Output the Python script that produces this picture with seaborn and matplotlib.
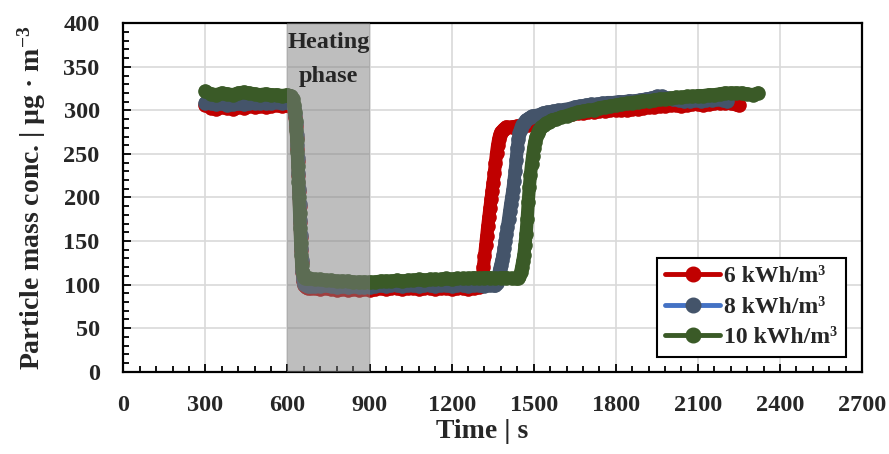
import matplotlib
matplotlib.use("Agg")
import matplotlib.pyplot as plt
import seaborn as sns
import pandas as pd
from matplotlib.ticker import MultipleLocator
from matplotlib.lines import Line2D

# ---------------- data ----------------
labels = ["6 kWh/m³", "8 kWh/m³", "10 kWh/m³"]

t_6 = [300, 320, 340, 360, 380, 400, 420, 440, 460, 480, 500, 520, 540, 560, 580, 600,
       610, 618, 624, 628, 631, 634, 636, 638, 640, 642, 644, 646, 648, 650, 652, 654, 657,
       661, 667, 675, 685,
       700, 720, 740, 760, 780, 800, 820, 840, 860, 880, 900, 920, 940, 960, 980, 1000,
       1020, 1040, 1060, 1080, 1100, 1120, 1140, 1160, 1180, 1200, 1220, 1240, 1260, 1280, 1300,
       1304, 1308, 1312, 1316, 1320, 1324, 1328, 1332, 1336, 1340, 1344, 1348, 1352, 1356,
       1360, 1364, 1368, 1372, 1376, 1380, 1386, 1392, 1400,
       1420, 1440, 1460, 1480, 1500, 1520, 1540, 1560, 1580, 1600, 1620, 1640, 1660, 1680, 1700,
       1720, 1740, 1760, 1780, 1800, 1820, 1840, 1860, 1880, 1900, 1920, 1940, 1960, 1980, 2000,
       2020, 2040, 2060, 2080, 2100, 2120, 2140, 2160, 2180, 2200, 2220, 2240, 2250]
v_6 = [306, 303, 302, 304, 303, 302, 304, 303, 305, 304, 305, 304, 305, 306, 305, 306,
       305, 304, 300, 292, 282, 268, 256, 242, 226, 208, 190, 172, 155, 140, 126, 114, 104,
       99, 97, 96, 96,
       96, 95, 96, 95, 94, 95, 94, 95, 94, 95, 94, 95, 96, 95, 96, 96,
       95, 96, 96, 95, 96, 96, 95, 96, 96, 95, 96, 96, 95, 96, 97,
       98, 101, 108, 120, 133, 145, 156, 167, 178, 188, 198, 207, 217, 228,
       240, 251, 260, 267, 272, 275, 277, 279, 281,
       281, 282, 283, 283, 284, 285, 287, 289, 291, 293, 295, 296, 297, 297, 298,
       298, 299, 299, 300, 300, 301, 301, 302, 302, 303, 304, 304, 305, 305, 306,
       306, 305, 306, 307, 307, 306, 307, 308, 308, 309, 308, 307, 306]

t_8 = [300, 320, 340, 360, 380, 400, 420, 440, 460, 480, 500, 520, 540, 560, 580, 600,
       610, 618, 624, 628, 631, 634, 636, 638, 640, 642, 644, 646, 648, 650, 652, 654, 657,
       661, 667, 675, 685,
       700, 720, 740, 760, 780, 800, 820, 840, 860, 880, 900, 920, 940, 960, 980, 1000,
       1020, 1040, 1060, 1080, 1100, 1120, 1140, 1160, 1180, 1200, 1220, 1240, 1260, 1280, 1300,
       1320, 1340, 1355,
       1360, 1364, 1368, 1372, 1376, 1380, 1384, 1388, 1392, 1396, 1400, 1404, 1408, 1412,
       1416, 1420, 1424, 1428, 1432, 1436, 1440, 1444, 1448, 1452, 1458, 1464, 1472, 1482,
       1492, 1505,
       1520, 1535, 1550, 1570, 1590, 1610, 1630, 1650, 1670, 1690, 1710, 1730, 1750, 1770, 1790,
       1810, 1830, 1850, 1870, 1890, 1910, 1930, 1950, 1970, 1990, 2010, 2030, 2050, 2070, 2090,
       2110, 2130, 2150, 2170, 2190, 2205]
v_8 = [309, 308, 307, 308, 306, 307, 308, 307, 309, 308, 309, 308, 309, 310, 309, 310,
       309, 308, 304, 296, 286, 272, 260, 245, 228, 210, 192, 174, 157, 142, 128, 116, 106,
       101, 99, 98, 98,
       98, 98, 99, 98, 97, 98, 97, 98, 97, 97, 97, 98, 99, 98, 99, 99,
       98, 99, 99, 98, 99, 99, 98, 99, 99, 98, 99, 99, 98, 99, 99,
       98, 99, 99,
       100, 102, 106, 112, 118, 123, 128, 134, 142, 150, 158, 166, 175, 184,
       193, 201, 209, 219, 230, 243, 257, 267, 274, 279, 283, 286, 289, 291,
       293, 294,
       295, 297, 298, 299, 300, 301, 302, 304, 305, 306, 307, 307, 308, 309, 309,
       310, 310, 311, 311, 312, 313, 314, 316, 316, 314, 313, 312, 311, 311, 312,
       311, 312, 312, 313, 312, 311]

t_10 = [300, 320, 340, 360, 380, 400, 420, 440, 460, 480, 500, 520, 540, 560, 580, 600,
        608, 614, 620, 624, 627, 630, 632, 634, 636, 638, 640, 642, 644, 646, 648, 650, 652,
        655, 659, 665, 672, 680,
        700, 720, 740, 760, 780, 800, 820, 840, 860, 880, 900, 920, 940, 960, 980, 1000,
        1020, 1040, 1060, 1080, 1100, 1120, 1140, 1160, 1180, 1200, 1220, 1240, 1260, 1280, 1300,
        1320, 1340, 1360, 1380, 1400, 1420, 1436,
        1442, 1448, 1452, 1456, 1460, 1464, 1468, 1472, 1476, 1480, 1484, 1488, 1492, 1496,
        1500, 1504, 1508, 1514, 1520, 1528, 1536, 1546, 1556, 1566,
        1580, 1600, 1620, 1640, 1660, 1680, 1700, 1720, 1740, 1760, 1780, 1800, 1820, 1840, 1860,
        1880, 1900, 1920, 1940, 1960, 1980, 2000, 2020, 2040, 2060, 2080, 2100, 2120, 2140, 2160,
        2180, 2200, 2220, 2240, 2260, 2280, 2300, 2320]
v_10 = [322, 319, 318, 320, 319, 318, 320, 321, 320, 319, 318, 319, 318, 318, 317, 318,
        317, 316, 313, 306, 298, 288, 278, 266, 252, 236, 218, 200, 182, 165, 148, 134, 122,
        113, 109, 108, 107, 107,
        106, 106, 105, 105, 104, 104, 104, 103, 103, 103, 103, 103, 104, 104, 104, 105,
        104, 105, 105, 106, 105, 106, 106, 106, 107, 106, 107, 107, 107, 108, 107,
        108, 108, 107, 108, 108, 107, 107,
        108, 110, 114, 120, 127, 134, 145, 158, 175, 195, 212, 226, 238, 248,
        257, 264, 269, 274, 278, 281, 283, 285, 287, 289,
        290, 292, 294, 296, 298, 299, 300, 301, 303, 304, 305, 306, 307, 308, 309,
        310, 311, 311, 312, 313, 313, 314, 315, 315, 316, 316, 317, 317, 318, 318,
        319, 320, 320, 320, 320, 319, 318, 320]

x_ticks = [0, 300, 600, 900, 1200, 1500, 1800, 2100, 2400, 2700]
y_ticks = [0, 50, 100, 150, 200, 250, 300, 350, 400]
heating_start, heating_end = 600, 900

# ---------------- style ----------------
sns.set_theme(style="white")
plt.rcParams["font.family"] = ["Liberation Serif", "DejaVu Serif"]
plt.rcParams["font.weight"] = "bold"
plt.rcParams["mathtext.fontset"] = "custom"
plt.rcParams["mathtext.rm"] = "Liberation Serif:bold"
plt.rcParams["mathtext.it"] = "Liberation Serif:bold:italic"
plt.rcParams["mathtext.bf"] = "Liberation Serif:bold"
plt.rcParams["mathtext.default"] = "rm"

line_colors = ["#c00000", "#4472c4", "#3a5a27"]
marker_colors = ["#c00000", "#44546a", "#3a5a27"]

fig = plt.figure(figsize=(8.89, 4.54), dpi=100)
ax = fig.add_axes([0.1387, 0.1813, 0.831, 0.7674])

# dense marker trails: drawn as a thick band in the marker colour with markers on top
series = [(t_6, v_6), (t_8, v_8), (t_10, v_10)]
for i, ((t, v), lab) in enumerate(zip(series, labels)):
    df = pd.DataFrame({"t": t, "v": v})
    sns.lineplot(data=df, x="t", y="v", ax=ax, estimator=None, sort=False,
                 color=marker_colors[i], linewidth=9.5, marker="o", markersize=10.5,
                 markerfacecolor=marker_colors[i], markeredgecolor=marker_colors[i],
                 markeredgewidth=0, zorder=3 + i, legend=False,
                 solid_joinstyle="round", solid_capstyle="round")

ax.axvspan(heating_start, heating_end, color="#7f7f7f", alpha=0.5, lw=0, zorder=7)
ax.text((heating_start + heating_end) / 2, 390, "Heating\nphase", ha="center", va="top",
        fontsize=17.5, fontweight="bold", linespacing=1.8, zorder=8)

ax.set_xlim(0, 2700)
ax.set_ylim(0, 400)
ax.set_xticks(x_ticks)
ax.set_yticks(y_ticks)
ax.xaxis.set_minor_locator(MultipleLocator(60))
ax.yaxis.set_minor_locator(MultipleLocator(10))
ax.grid(True, which="major", color="#d9d9d9", linewidth=1.2, zorder=0)
ax.set_axisbelow(True)
ax.tick_params(axis="both", which="both", bottom=True, left=True, top=False, right=False)
ax.tick_params(axis="both", which="major", direction="in", length=6, width=1.3,
               labelsize=17.5, color="black")
ax.tick_params(axis="both", which="minor", direction="in", length=4.5, width=1.3, color="black")
ax.tick_params(axis="x", which="major", pad=17)
ax.tick_params(axis="y", which="major", pad=17)
for lab in ax.get_xticklabels() + ax.get_yticklabels():
    lab.set_fontweight("bold")
for s in ax.spines.values():
    s.set_visible(True)
    s.set_color("black")
    s.set_linewidth(1.6)

ax.set_xlabel("Time | s", fontsize=20, fontweight="bold", labelpad=2)
ax.xaxis.label.set_x(0.486)
ax.set_ylabel("Particle mass conc. | µg · m$^{-3}$", fontsize=20, fontweight="bold", labelpad=11)

handles = [Line2D([], [], color=line_colors[i], lw=3.5, marker="o", markersize=10.5,
                  markerfacecolor=marker_colors[i], markeredgecolor=marker_colors[i])
           for i in range(3)]
leg = ax.legend(handles, labels, loc="lower right", bbox_to_anchor=(0.978, 0.043),
                borderaxespad=0, fancybox=False, framealpha=1, edgecolor="black",
                prop={"family": "Liberation Serif", "weight": "bold", "size": 17},
                handlelength=2.3, handletextpad=0.2, labelspacing=0.38, borderpad=0.35)
leg.get_frame().set_linewidth(1.5)
leg.set_zorder(10)

fig.savefig("out.png", dpi=100)
